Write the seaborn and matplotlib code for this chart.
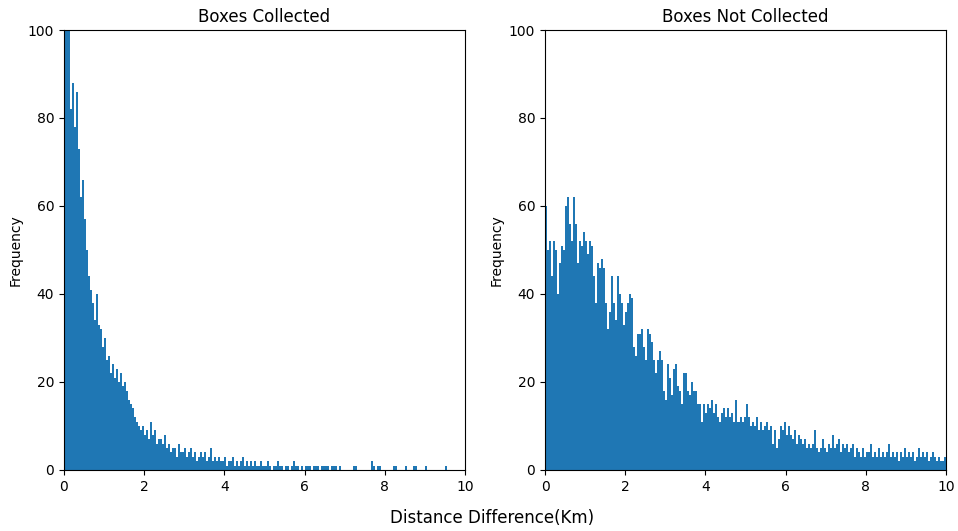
import numpy as np
import pandas as pd
import matplotlib
matplotlib.use("Agg")
import matplotlib.pyplot as plt
import seaborn as sns

# bin edges: 0..10 km in 0.05 km steps (200 bins)
bin_width = 0.05
n_bins = 200

collected_counts = [
    130, 115, 105, 82, 88, 78, 86, 73, 62, 66,
    57, 50, 44, 41, 38, 34, 40, 33, 32, 28,
    30, 25, 26, 22, 24, 21, 23, 20, 22, 19,
    20, 18, 16, 15, 14, 12, 11, 10, 9, 10,
    8, 9, 7, 11, 8, 9, 6, 7, 7, 6,
    8, 5, 6, 4, 5, 5, 3, 6, 4, 4,
    5, 3, 4, 5, 3, 4, 2, 3, 4, 3,
    4, 2, 3, 5, 2, 3, 2, 3, 2, 2,
    3, 1, 2, 2, 3, 1, 2, 1, 2, 3,
    1, 2, 1, 2, 1, 2, 1, 1, 2, 1,
    1, 2, 1, 0, 1, 1, 2, 1, 1, 0,
    1, 1, 0, 1, 2, 1, 1, 0, 1, 0,
    1, 1, 1, 0, 1, 1, 1, 0, 1, 1,
    1, 1, 0, 1, 1, 1, 0, 1, 0, 0,
    0, 0, 0, 0, 1, 1, 0, 0, 0, 0,
    0, 0, 0, 2, 1, 0, 1, 1, 0, 0,
    0, 0, 0, 0, 1, 1, 0, 0, 0, 0,
    1, 0, 0, 0, 1, 1, 0, 0, 0, 0,
    1, 0, 0, 0, 0, 0, 0, 0, 0, 0,
    1, 0, 0, 0, 0, 0, 0, 0, 0, 0,
]

not_collected_counts = [
    60, 50, 52, 44, 52, 50, 40, 47, 51, 50,
    60, 62, 56, 52, 62, 56, 47, 52, 51, 54,
    52, 49, 52, 51, 44, 38, 47, 46, 48, 46,
    38, 32, 36, 44, 38, 34, 44, 40, 38, 33,
    36, 38, 40, 39, 28, 26, 31, 31, 32, 28,
    25, 32, 31, 29, 25, 22, 25, 27, 25, 18,
    16, 24, 21, 17, 23, 24, 19, 18, 15, 22,
    22, 18, 17, 20, 18, 18, 15, 15, 11, 15,
    13, 15, 14, 16, 13, 15, 12, 11, 13, 14,
    12, 14, 12, 13, 11, 16, 11, 12, 11, 12,
    15, 12, 10, 11, 10, 12, 9, 11, 9, 10,
    11, 9, 10, 6, 9, 5, 7, 10, 9, 11,
    8, 10, 8, 7, 9, 6, 8, 7, 6, 7,
    5, 6, 5, 6, 9, 5, 4, 5, 7, 5,
    4, 6, 5, 8, 5, 6, 7, 4, 6, 5,
    6, 4, 5, 6, 3, 5, 4, 3, 5, 3,
    4, 4, 6, 3, 4, 3, 5, 3, 4, 3,
    4, 6, 3, 4, 3, 4, 2, 4, 3, 5,
    3, 4, 3, 4, 2, 3, 5, 3, 4, 3,
    4, 2, 3, 4, 3, 2, 3, 2, 2, 3,
]

titles = ["Boxes Collected", "Boxes Not Collected"]
x_label = "Distance Difference(Km)"
y_label = "Frequency"
x_ticks = [0, 2, 4, 6, 8, 10]
y_ticks = [0, 20, 40, 60, 80, 100]

edges = np.arange(n_bins + 1) * bin_width
centers = (edges[:-1] + edges[1:]) / 2

plt.rcParams["font.family"] = ["DejaVu Sans"]
fig = plt.figure(figsize=(9.58, 5.31), dpi=100)
ax1 = fig.add_axes([0.0668, 0.1149, 0.4186, 0.8286])
ax2 = fig.add_axes([0.5689, 0.1149, 0.4186, 0.8286])

for ax, counts, title in zip([ax1, ax2], [collected_counts, not_collected_counts], titles):
    df = pd.DataFrame({"dist": centers, "count": np.asarray(counts, dtype=float)})
    sns.histplot(data=df, x="dist", weights="count", binwidth=bin_width,
                 binrange=(0, 10), ax=ax, color="#1f77b4", alpha=1,
                 linewidth=0)
    ax.set_xlim(0, 10)
    ax.set_ylim(0, 100)
    ax.set_xticks(x_ticks)
    ax.set_yticks(y_ticks)
    ax.set_title(title, fontsize=12)
    ax.set_ylabel(y_label, fontsize=10)
    ax.set_xlabel("")
    ax.tick_params(labelsize=10)

fig.text(0.5135, 0.025, x_label, ha="center", va="center", fontsize=12)
fig.savefig("out.png", dpi=100)
